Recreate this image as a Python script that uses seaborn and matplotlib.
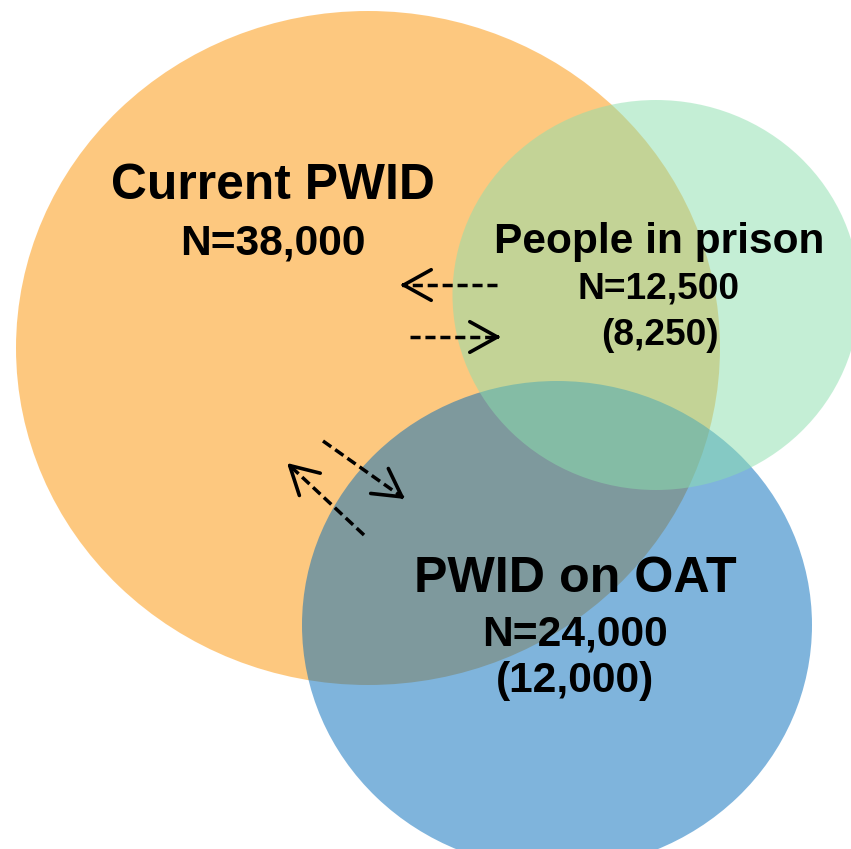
import numpy as np
import matplotlib
matplotlib.use("Agg")
import matplotlib.pyplot as plt
import seaborn as sns
from matplotlib.patches import Ellipse

# Data
groups = ["Current PWID", "PWID on OAT", "People in prison"]
totals = [38000, 24000, 12500]
subtotals = [None, 12000, 8250]
colors = ["#fd9301", "#006bbb", "#8bdfad"]

# Layout (pixel coords, y down)
centers = [(368, 348), (557, 625), (656, 295)]
sizes = [(704, 674), (510, 488), (407, 390)]
title_pos = [(273, 199), (575, 592), (659, 253)]
title_fs = [35.8, 36.2, 30.6]
n_pos = [(273, 254), (575, 645), (658, 298)]
n_fs = [30.6, 30.6, 26.7]
sub_pos = [None, (575, 692), (660, 345)]

# flows between groups: (tail, head)
flows = [
    ((497, 285), (400, 285)),
    ((410, 337), (501, 337)),
    ((323, 441), (405, 499)),
    ((364, 535), (287, 463)),
]

sns.set_theme(style="white")
plt.rcParams["font.family"] = ["Liberation Sans", "DejaVu Sans"]

fig = plt.figure(figsize=(8.51, 8.49), dpi=100)
ax = fig.add_axes([0, 0, 1, 1])
ax.set_xlim(0, 851)
ax.set_ylim(849, 0)
ax.axis("off")

for c, (w, h), col in zip(centers, sizes, colors):
    ax.add_patch(Ellipse(c, w, h, facecolor=col, edgecolor="none", alpha=0.5))

for i, g in enumerate(groups):
    ax.text(*title_pos[i], g, ha="center", va="baseline", fontsize=title_fs[i],
            fontweight="bold", color="black")
    ax.text(*n_pos[i], f"N={totals[i]:,}", ha="center", va="baseline",
            fontsize=n_fs[i], fontweight="bold", color="black")
    if subtotals[i] is not None:
        ax.text(*sub_pos[i], f"({subtotals[i]:,})", ha="center", va="baseline",
                fontsize=n_fs[i], fontweight="bold", color="black")

# dashed flow arrows with solid open heads
for (x0, y0), (x1, y1) in flows:
    d = np.array([x1 - x0, y1 - y0], dtype=float)
    d /= np.hypot(*d)
    ax.plot([x0, x1 - 2 * d[0]], [y0, y1 - 2 * d[1]], color="black", lw=2.5,
            linestyle=(0, (2.9, 1.4)), solid_capstyle="butt")
    ax.annotate("", xy=(x1, y1), xytext=(x1 - 6 * d[0], y1 - 6 * d[1]),
                arrowprops=dict(arrowstyle="->,head_length=0.9,head_width=0.5",
                                lw=2.6, color="black", mutation_scale=22,
                                shrinkA=0, shrinkB=0))

fig.savefig("out.png", dpi=100)
